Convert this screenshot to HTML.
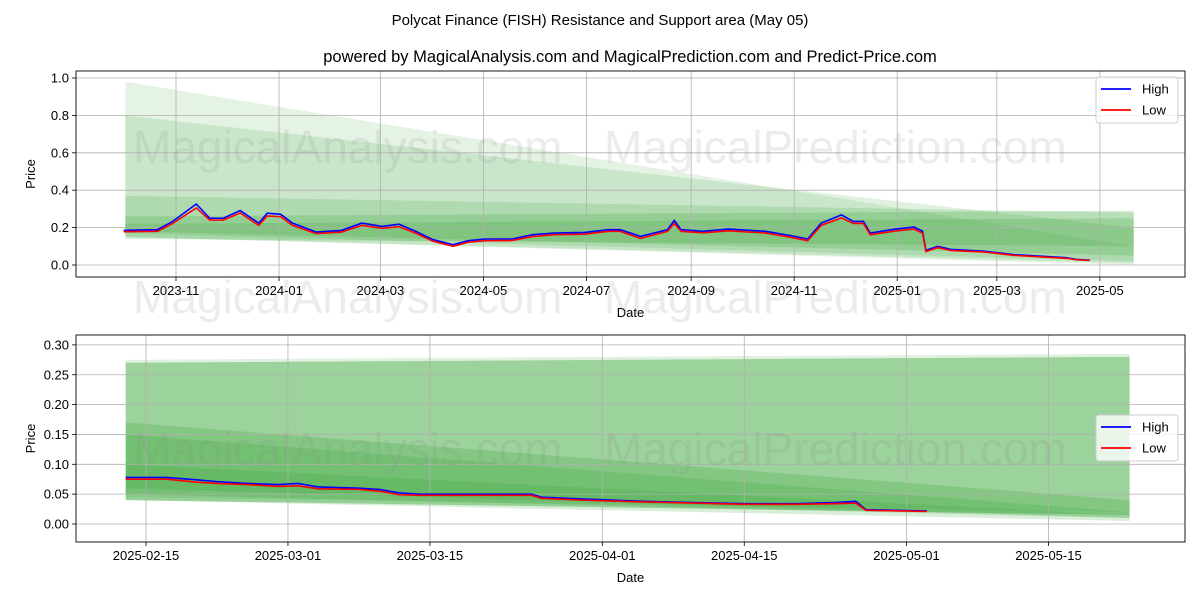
<!DOCTYPE html>
<html><head><meta charset="utf-8"><style>
body{margin:0;background:#fff;}
svg{display:block;font-family:"Liberation Sans","DejaVu Sans",sans-serif;}
</style></head><body>
<svg id="chart" width="1200" height="600" viewBox="0 0 1200 600">
<text x="600" y="25" text-anchor="middle" font-size="15">Polycat Finance (FISH) Resistance and Support area (May 05)</text>
<text x="630" y="62" text-anchor="middle" font-size="16.5">powered by MagicalAnalysis.com and MagicalPrediction.com and Predict-Price.com</text>
<g id="top"></g>
<g id="bot"></g>
<g id="wm"></g>
</svg>
<script>
const topDayOffsets=[-31,-11,-2,12,20,28,38,49,54,62,69,83,98,110,122,132,142,152,164,173,183,199,211,224,242,256,263,275,291,295,299,312,327,349,364,374,382,394,401,407,411,426,437,442,444,451,459,478,496,527,533,541];
const topHigh=[0.185,0.189,0.233,0.326,0.25,0.25,0.291,0.224,0.277,0.271,0.224,0.176,0.185,0.224,0.206,0.218,0.18,0.136,0.109,0.13,0.139,0.139,0.162,0.171,0.174,0.189,0.189,0.153,0.189,0.238,0.189,0.18,0.192,0.18,0.157,0.139,0.224,0.268,0.233,0.233,0.171,0.192,0.203,0.18,0.079,0.1,0.083,0.074,0.056,0.039,0.03,0.026];
const topLow=[0.178,0.18,0.222,0.305,0.24,0.24,0.278,0.212,0.262,0.258,0.212,0.168,0.176,0.212,0.196,0.205,0.17,0.128,0.1,0.122,0.13,0.131,0.152,0.162,0.165,0.18,0.18,0.142,0.18,0.222,0.18,0.172,0.183,0.171,0.148,0.13,0.212,0.252,0.222,0.222,0.162,0.182,0.192,0.17,0.072,0.093,0.077,0.07,0.052,0.036,0.028,0.024];
const topTickLabels=["2023-11","2024-01","2024-03","2024-05","2024-07","2024-09","2024-11","2025-01","2025-03","2025-05"];
const topYTicks=[0,0.2,0.4,0.6,0.8,1.0];
const topBandStartTop=[0.98,0.80,0.37,0.26,0.22];
const topBandStartBot=[0.15,0.17,0.15,0.18,0.14];
const topBandEndTop=[0.10,0.20,0.28,0.29,0.25];
const topBandEndBot=[0.0,0.02,0.01,0.05,0.10];
const topBandAlpha=[0.12,0.15,0.17,0.2,0.2];
const topBandRange=[-30,567];

const botDates=["2025-02-13","2025-02-17","2025-02-20","2025-02-22","2025-02-25","2025-02-28","2025-03-02","2025-03-04","2025-03-08","2025-03-10","2025-03-12","2025-03-14","2025-03-20","2025-03-25","2025-03-26","2025-03-30","2025-04-05","2025-04-10","2025-04-15","2025-04-20","2025-04-24","2025-04-26","2025-04-27","2025-05-03"];
const botHigh=[0.078,0.078,0.074,0.071,0.068,0.066,0.068,0.062,0.06,0.058,0.052,0.05,0.05,0.05,0.045,0.042,0.038,0.036,0.034,0.034,0.036,0.038,0.024,0.022];
const botLow=[0.075,0.075,0.07,0.068,0.066,0.063,0.064,0.059,0.058,0.055,0.049,0.048,0.048,0.048,0.043,0.04,0.037,0.035,0.033,0.033,0.034,0.035,0.023,0.021];
const botTickLabels=["2025-02-15","2025-03-01","2025-03-15","2025-04-01","2025-04-15","2025-05-01","2025-05-15"];
const botYTicks=[0,0.05,0.10,0.15,0.20,0.25,0.30];
const botBandStartTop=[0.27,0.275,0.17,0.15,0.10];
const botBandStartBot=[0.04,0.045,0.05,0.06,0.04];
const botBandEndTop=[0.28,0.285,0.04,0.02,0.015];
const botBandEndBot=[0.015,0.02,0.01,0.01,0.005];
const botBandAlpha=[0.38,0.15,0.22,0.18,0.18];
const botBandRange=["2025-02-13","2025-05-23"];

const NS="http://www.w3.org/2000/svg";
function mk(parent,tag,attrs){const e=document.createElementNS(NS,tag);for(const k in attrs)e.setAttribute(k,attrs[k]);parent.appendChild(e);return e;}
const DAY=86400000;
function dnum(s){const p=s.split("-");return Date.UTC(+p[0],+p[1]-1,+p[2])/DAY;}
const topBase=dnum("2023-11-01");
const tx=d=>176+1.689*d;
const ty=v=>265-v*187;
const bx=s=>146+10.14*(dnum(s)-dnum("2025-02-15"));
const by=v=>524-v*597;

function panel(g,x0,y0,x1,y1,xt,xlabels,yticks,yfmt,ymap,bands,hi,lo,xs,legY){
  for(let i=0;i<bands.st.length;i++){
    const p=`${bands.xa},${ymap(bands.st[i])} ${bands.xb},${ymap(bands.et[i])} ${bands.xb},${ymap(bands.eb[i])} ${bands.xa},${ymap(bands.sb[i])}`;
    const e=mk(g,"polygon",{points:p,fill:"rgb(44,160,44)","fill-opacity":bands.al[i]});
    
    
  }
  xt.forEach((x,i)=>{
    const l=mk(g,"line",{x1:x,x2:x,y1:y0,y2:y1,stroke:"#b0b0b0","stroke-width":0.8});
    
    
    mk(g,"line",{x1:x,x2:x,y1:y1,y2:y1+4,stroke:"#000","stroke-width":0.8});
    const t=mk(g,"text",{x:x,y:y1+18,"text-anchor":"middle","font-size":13});
    t.textContent=xlabels[i];
    
    
  });
  yticks.forEach(v=>{
    const y=ymap(v);
    const l=mk(g,"line",{x1:x0,x2:x1,y1:y,y2:y,stroke:"#b0b0b0","stroke-width":0.8});
    
    
    mk(g,"line",{x1:x0-4,x2:x0,y1:y,y2:y,stroke:"#000","stroke-width":0.8});
    const t=mk(g,"text",{x:x0-7,y:y+4.5,"text-anchor":"end","font-size":13});
    t.textContent=v.toFixed(yfmt);
    
    
  });
  const ph=mk(g,"polyline",{points:xs.map((x,i)=>x+","+ymap(hi[i])).join(" "),fill:"none",stroke:"#0000ff","stroke-width":1.6});
  
  
  const pl=mk(g,"polyline",{points:xs.map((x,i)=>x+","+ymap(lo[i])).join(" "),fill:"none",stroke:"#ff0000","stroke-width":1.6});
  
  
  const f=mk(g,"rect",{x:x0,y:y0,width:x1-x0,height:y1-y0,fill:"none",stroke:"#000","stroke-width":0.9});
  
  
  const xl=mk(g,"text",{x:(x0+x1)/2,y:y1+40,"text-anchor":"middle","font-size":13});
  xl.textContent="Date";
  
  
  const yl=mk(g,"text",{x:0,y:0,"text-anchor":"middle","font-size":13,transform:`translate(35,${(y0+y1)/2}) rotate(-90)`});
  yl.textContent="Price";
  
  
  const lg=mk(g,"g",{});
  
  
  mk(lg,"rect",{x:1096,y:legY,width:82,height:46,rx:3,fill:"#fff","fill-opacity":0.8,stroke:"#ccc"});
  [["High","#0000ff"],["Low","#ff0000"]].forEach((s,i)=>{
    const yy=legY+12+i*21;
    const e=mk(lg,"g",{});
    
    
    mk(e,"line",{x1:1101,x2:1131,y1:yy,y2:yy,stroke:s[1],"stroke-width":1.8});
    const t=mk(e,"text",{x:1142,y:yy+4.5,"font-size":13});
    t.textContent=s[0];
  });
}
const topG=document.getElementById("top"), botG=document.getElementById("bot");
const topTickDays=topTickLabels.map(s=>dnum(s+"-01")-topBase);
panel(topG,76,71,1185,277,topTickDays.map(tx),topTickLabels,topYTicks,1,ty,
 {xa:tx(topBandRange[0]),xb:tx(topBandRange[1]),st:topBandStartTop,sb:topBandStartBot,et:topBandEndTop,eb:topBandEndBot,al:topBandAlpha},
 topHigh,topLow,topDayOffsets.map(tx),77);
panel(botG,76,335,1185,542,botTickLabels.map(bx),botTickLabels,botYTicks,2,by,
 {xa:bx(botBandRange[0]),xb:bx(botBandRange[1]),st:botBandStartTop,sb:botBandStartBot,et:botBandEndTop,eb:botBandEndBot,al:botBandAlpha},
 botHigh,botLow,botDates.map(bx),415);
const wm=document.getElementById("wm");
[163,313,465].forEach(y=>{
  const a=mk(wm,"text",{x:133,y:y,"font-size":46,fill:"#888","fill-opacity":0.16});
  a.textContent="MagicalAnalysis.com";
  
  
  const b=mk(wm,"text",{x:604,y:y,"font-size":46,fill:"#888","fill-opacity":0.16});
  b.textContent="MagicalPrediction.com";
  
  
});
</script>
</body></html>
